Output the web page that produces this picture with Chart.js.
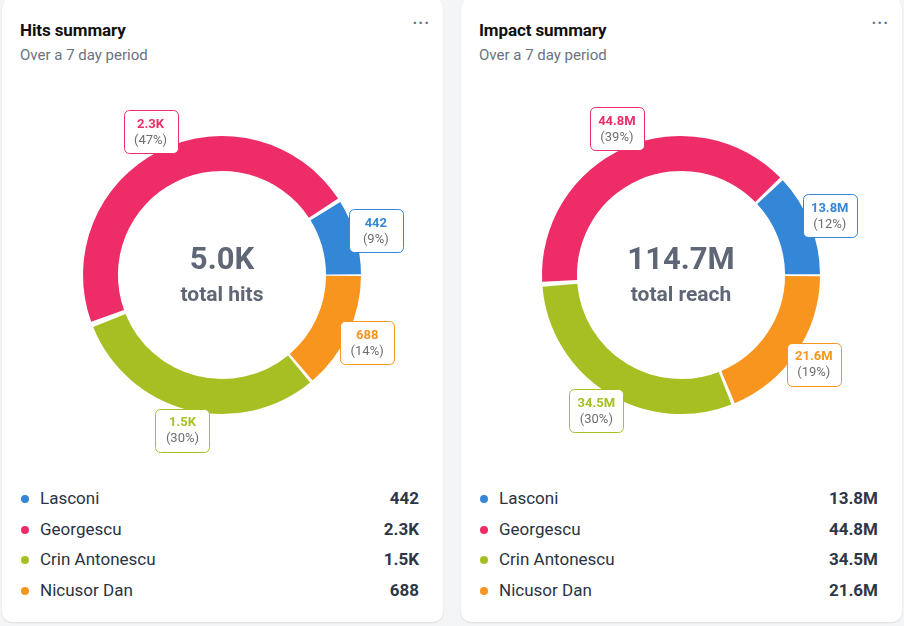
<!DOCTYPE html>
<html>
<head>
<meta charset="utf-8">
<script src="https://cdn.jsdelivr.net/npm/chart.js@4.4.1/dist/chart.umd.min.js"></script>
<style>
  html, body { margin: 0; padding: 0; }
  body {
    width: 904px; height: 626px; overflow: hidden; position: relative;
    background: #f4f5f7; font-family: Roboto, 'Noto Sans', sans-serif;
  }
  .card {
    position: absolute; top: -2px; width: 441px; height: 624px;
    background: #fff; border-radius: 10px;
    box-shadow: 0 1px 2px rgba(0, 0, 0, 0.10);
  }
  .card h3 {
    position: absolute; left: 18px; top: 22px; margin: 0;
    font-size: 17px; font-weight: 700; color: #111; letter-spacing: -0.1px;
  }
  .card .sub {
    position: absolute; left: 18px; top: 48px;
    font-size: 15px; color: #6b7280;
  }
  .card .more {
    position: absolute; right: 13px; top: 15px;
    font-size: 16px; color: #6b7280; letter-spacing: 1px; font-weight: 700;
  }
  .card canvas { position: absolute; left: 0; top: 89px; }
  .legend { position: absolute; left: 0; right: 24px; top: 486px; }
  .row { position: relative; height: 30.5px; }
  .row .dot {
    position: absolute; left: 19px; top: 11px; width: 8px; height: 8px; border-radius: 50%;
  }
  .row .name { position: absolute; left: 38px; top: 4px; font-size: 17px; color: #2a3342; }
  .row .val { position: absolute; right: 0; top: 4px; font-size: 17px; font-weight: 700; color: #2d3748; }
</style>
</head>
<body>
<div class="card" id="hits" style="left:2px">
  <h3>Hits summary</h3>
  <div class="sub">Over a 7 day period</div>
  <div class="more">···</div>
  <canvas id="hitsChart" width="441" height="380"></canvas>
  <div class="legend" id="hitsLegend"></div>
</div>
<div class="card" id="impact" style="left:461px">
  <h3>Impact summary</h3>
  <div class="sub">Over a 7 day period</div>
  <div class="more">···</div>
  <canvas id="impactChart" width="441" height="380"></canvas>
  <div class="legend" id="impactLegend"></div>
</div>
<script>
// legend order; the ring runs the other way round, so the chart gets them reversed
const candidates = ['Lasconi', 'Georgescu', 'Crin Antonescu', 'Nicusor Dan'];
const candidateColors = ['#3486d6', '#ee2c67', '#a7bf23', '#f7951f'];
const hitsValues = [442, 2340, 1510, 688];
const reachValues = [13800000, 44800000, 34500000, 21600000];

function fmt(v) {
    if (v >= 1e6) return (v / 1e6).toFixed(1) + 'M';
    if (v >= 1e3) return (v / 1e3).toFixed(1) + 'K';
    return String(v);
}

function roundRect(ctx, x, y, w, h, r) {
    ctx.beginPath();
    ctx.moveTo(x + r, y);
    ctx.arcTo(x + w, y, x + w, y + h, r);
    ctx.arcTo(x + w, y + h, x, y + h, r);
    ctx.arcTo(x, y + h, x, y, r);
    ctx.arcTo(x, y, x + w, y, r);
    ctx.closePath();
}

// callout boxes outside each arc
const calloutPlugin = {
    id: 'callouts',
    afterDatasetsDraw(chart) {
        const ctx = chart.ctx;
        const ds = chart.data.datasets[0];
        const total = ds.data.reduce((a, b) => a + b, 0);
        chart.getDatasetMeta(0).data.forEach((arc, i) => {
            const { x, y, startAngle, endAngle, outerRadius } = arc.getProps(['x', 'y', 'startAngle', 'endAngle', 'outerRadius'], true);
            const mid = (startAngle + endAngle) / 2;
            const r = outerRadius + 23;
            const cx = x + Math.cos(mid) * r;
            const cy = y + Math.sin(mid) * r;
            const w = 54, h = 43;
            ctx.save();
            roundRect(ctx, Math.round(cx - w / 2) + 0.5, Math.round(cy - h / 2) + 0.5, w, h, 5);
            ctx.fillStyle = '#fff';
            ctx.fill();
            ctx.strokeStyle = ds.backgroundColor[i];
            ctx.lineWidth = 1;
            ctx.stroke();
            ctx.textAlign = 'center';
            ctx.textBaseline = 'middle';
            ctx.fillStyle = ds.backgroundColor[i];
            ctx.font = "700 13px Roboto";
            ctx.fillText(fmt(ds.data[i]), cx, cy - 7);
            ctx.fillStyle = '#6f6f6f';
            ctx.font = "400 13px Roboto";
            ctx.fillText('(' + Math.round(ds.data[i] / total * 100) + '%)', cx, cy + 9);
            ctx.restore();
        });
    },
};

const centerPlugin = {
    id: 'centerText',
    afterDraw(chart, args, opts) {
        const ctx = chart.ctx;
        const arc = chart.getDatasetMeta(0).data[0];
        if (!arc) return;
        const total = chart.data.datasets[0].data.reduce((a, b) => a + b, 0);
        ctx.save();
        ctx.textAlign = 'center';
        ctx.textBaseline = 'alphabetic';
        ctx.fillStyle = '#5f6776';
        ctx.font = "700 31px Roboto";
        ctx.fillText(fmt(total), arc.x, arc.y - 6);
        ctx.font = "700 21px Roboto";
        ctx.fillText(opts.label, arc.x, arc.y + 26);
        ctx.restore();
    },
};

function createDonut(canvasId, values, label) {
    const order = [3, 2, 1, 0];
    return new Chart(document.getElementById(canvasId), {
        type: 'doughnut',
        data: {
            labels: order.map((i) => candidates[i]),
            datasets: [{
                data: order.map((i) => values[i]),
                backgroundColor: order.map((i) => candidateColors[i]),
                borderWidth: 0,
                spacing: 4,
            }],
        },
        options: {
            responsive: false,
            animation: false,
            rotation: 90,
            cutout: '74.5%',
            layout: { padding: { top: 49, bottom: 53, left: 81, right: 82 } },
            plugins: {
                legend: { display: false },
                tooltip: { enabled: false },
                centerText: { label },
            },
        },
        plugins: [calloutPlugin, centerPlugin],
    });
}

function buildLegend(elId, values) {
    const el = document.getElementById(elId);
    candidates.forEach((name, i) => {
        const row = document.createElement('div');
        row.className = 'row';
        row.innerHTML = `<span class="dot" style="background:${candidateColors[i]}"></span>` +
            `<span class="name">${name}</span><span class="val">${fmt(values[i])}</span>`;
        el.appendChild(row);
    });
}

createDonut('hitsChart', hitsValues, 'total hits');
createDonut('impactChart', reachValues, 'total reach');
buildLegend('hitsLegend', hitsValues);
buildLegend('impactLegend', reachValues);
</script>
</body>
</html>
